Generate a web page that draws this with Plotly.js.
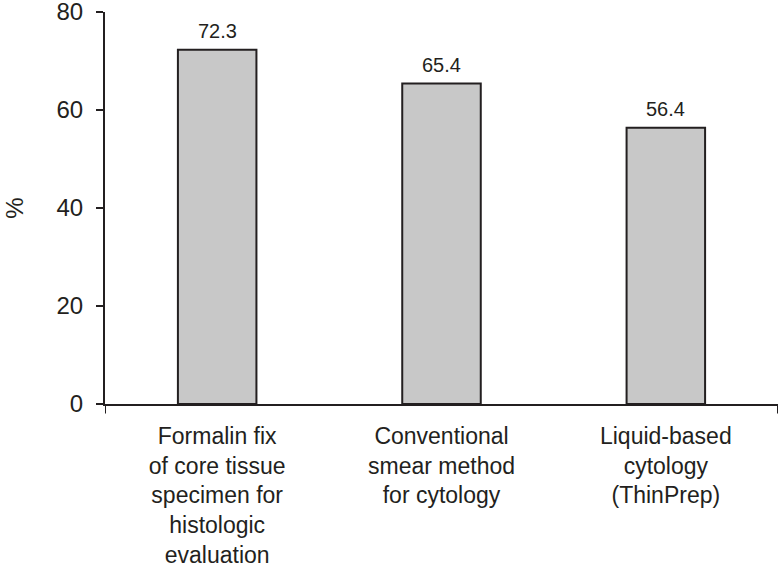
<!DOCTYPE html>
<html>
<head>
<meta charset="utf-8">
<script src="https://cdn.plot.ly/plotly-3.0.1.min.js"></script>
<style>html,body{margin:0;padding:0;background:#fff;}#chart{width:779px;height:569px;}</style>
</head>
<body>
<div id="chart"></div>
<script>
const categories = [
  "Formalin fix<br>of core tissue<br>specimen for<br>histologic<br>evaluation",
  "Conventional<br>smear method<br>for cytology",
  "Liquid-based<br>cytology<br>(ThinPrep)"
];
const values = [72.3, 65.4, 56.4];
const valueLabels = ["72.3", "65.4", "56.4"];
const yTicks = [0, 20, 40, 60, 80];

const xIdx = categories.map((_, i) => i);
const ink = "#231f20";
const font = "Arial, 'Liberation Sans', Helvetica, sans-serif";

const trace = {
  type: "bar",
  x: xIdx,
  y: values,
  width: 0.35,
  marker: { color: "#c8c8c8", line: { color: ink, width: 2 } },
  hoverinfo: "skip"
};

const annotations = xIdx.map((x, i) => ({
  x: x, y: values[i], xref: "x", yref: "y",
  text: valueLabels[i], showarrow: false,
  yanchor: "bottom", yshift: 6,
  font: { family: font, size: 20, color: ink }
}));

const endTicks = [-0.5, 2.5].map(x => ({
  type: "line", xref: "x", yref: "paper",
  x0: x, x1: x, y0: 0, y1: -0.024,
  line: { color: ink, width: 2 }
}));

const layout = {
  width: 779, height: 569,
  margin: { l: 105, r: 1, t: 12, b: 165 },
  paper_bgcolor: "#fff", plot_bgcolor: "#fff",
  showlegend: false,
  font: { family: font, color: ink },
  xaxis: {
    range: [-0.5, 2.5],
    tickvals: xIdx, ticktext: categories,
    ticks: "", showgrid: false, zeroline: false,
    showline: true, linecolor: ink, linewidth: 2,
    ticklabelstandoff: 10,
    tickfont: { family: font, size: 23, color: ink },
    fixedrange: true
  },
  yaxis: {
    range: [0, 80],
    tickvals: yTicks, ticktext: yTicks.map(String),
    ticks: "outside", ticklen: 7, tickwidth: 2, tickcolor: ink,
    ticklabelstandoff: 8, ticklabeloverflow: "allow",
    showgrid: false, zeroline: false,
    showline: true, linecolor: ink, linewidth: 2,
    tickfont: { family: font, size: 24, color: ink },
    title: { text: "%", font: { family: font, size: 24, color: ink }, standoff: 26 },
    fixedrange: true
  },
  annotations: annotations,
  shapes: endTicks
};

Plotly.newPlot("chart", [trace], layout, { staticPlot: true, displayModeBar: false });
</script>
</body>
</html>
